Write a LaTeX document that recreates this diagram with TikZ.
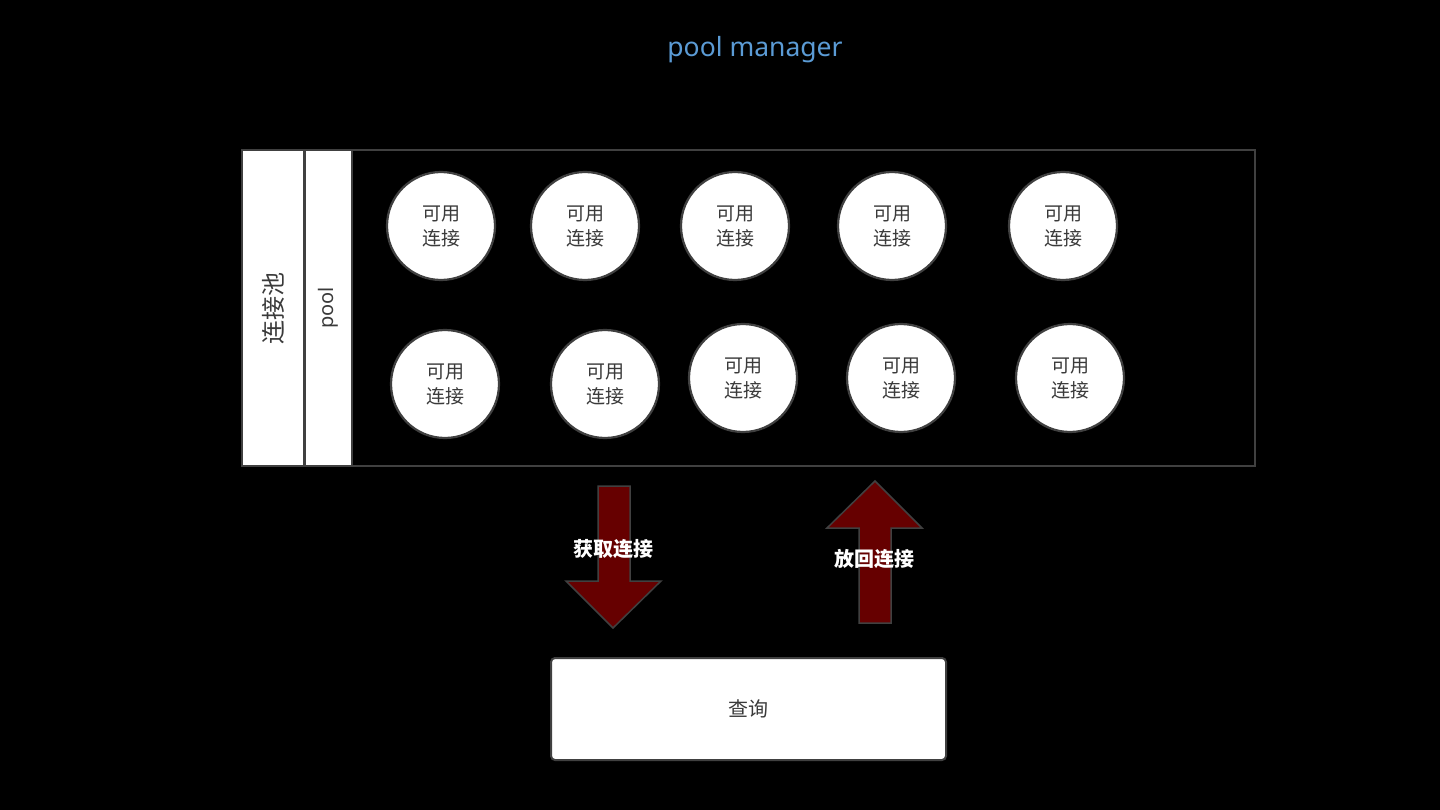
\documentclass[tikz,border=0pt]{standalone}
\usepackage{fontspec}
\setmainfont{Noto Sans}
\newfontfamily\cjk{Noto Sans CJK SC}
\definecolor{titleblue}{HTML}{5B9BD5}
\definecolor{edgegray}{HTML}{404040}
\definecolor{txtgray}{HTML}{3A3A3A}
\definecolor{arrowred}{HTML}{660000}
\begin{document}
\begin{tikzpicture}[x=1pt,y=-1pt,
  conn/.style={circle,fill=white,draw=edgegray,line width=2.2pt,minimum size=108pt,inner sep=0pt,align=center,font=\cjk\fontsize{19}{25}\selectfont,text=txtgray},
  sidebox/.style={fill=white,draw=edgegray,line width=2pt},
  bigarrow/.style={fill=arrowred,draw=edgegray,line width=1.5pt},
  arrlabel/.style={font=\cjk\bfseries\fontsize{20}{22}\selectfont,text=white},
]
\fill[black] (0,0) rectangle (1440,810);
\useasboundingbox (0,0) rectangle (1440,810);
\node[font=\fontsize{26.5}{30}\selectfont,text=titleblue] (title) at (755,50) {pool manager};
\node[draw=edgegray,line width=2pt,minimum width=1013pt,minimum height=316pt,inner sep=0pt] (pool) at (748.5,308) {};
\node[sidebox,minimum width=62pt,minimum height=316pt,inner sep=0pt] (lbox) at (273,308) {};
\node[rotate=90,font=\cjk\fontsize{24}{26}\selectfont,text=txtgray] (lboxt) at (273,308) {连接池};
\node[sidebox,minimum width=47pt,minimum height=316pt,inner sep=0pt] (pbox) at (328.5,308) {};
\node[rotate=90,font=\fontsize{20}{24}\selectfont,text=txtgray] (pboxt) at (328.5,308) {pool};
\node[conn] (c1) at (441,226) {可用\\连接};
\node[conn] (c2) at (585,226) {可用\\连接};
\node[conn] (c3) at (735,226) {可用\\连接};
\node[conn] (c4) at (892,226) {可用\\连接};
\node[conn] (c5) at (1063,226) {可用\\连接};
\node[conn] (c6) at (445,384) {可用\\连接};
\node[conn] (c7) at (605,384) {可用\\连接};
\node[conn] (c8) at (743,378) {可用\\连接};
\node[conn] (c9) at (901,378) {可用\\连接};
\node[conn] (c10) at (1070,378) {可用\\连接};
% down arrow
\draw[bigarrow] (598,486) -- (630,486) -- (630,581) -- (661,581) -- (613,628) -- (566,581) -- (598,581) -- cycle;
% up arrow
\draw[bigarrow] (875,481) -- (922,528) -- (891,528) -- (891,623) -- (859,623) -- (859,528) -- (827,528) -- cycle;
\node[arrlabel] (get) at (613,549) {获取连接};
\node[arrlabel] (put) at (874,559) {放回连接};
\node[fill=white,draw=edgegray,line width=2pt,rounded corners=4pt,minimum width=395pt,minimum height=102pt,font=\cjk\fontsize{20}{24}\selectfont,text=txtgray] (query) at (748.5,709) {查询};
\end{tikzpicture}
\end{document}
